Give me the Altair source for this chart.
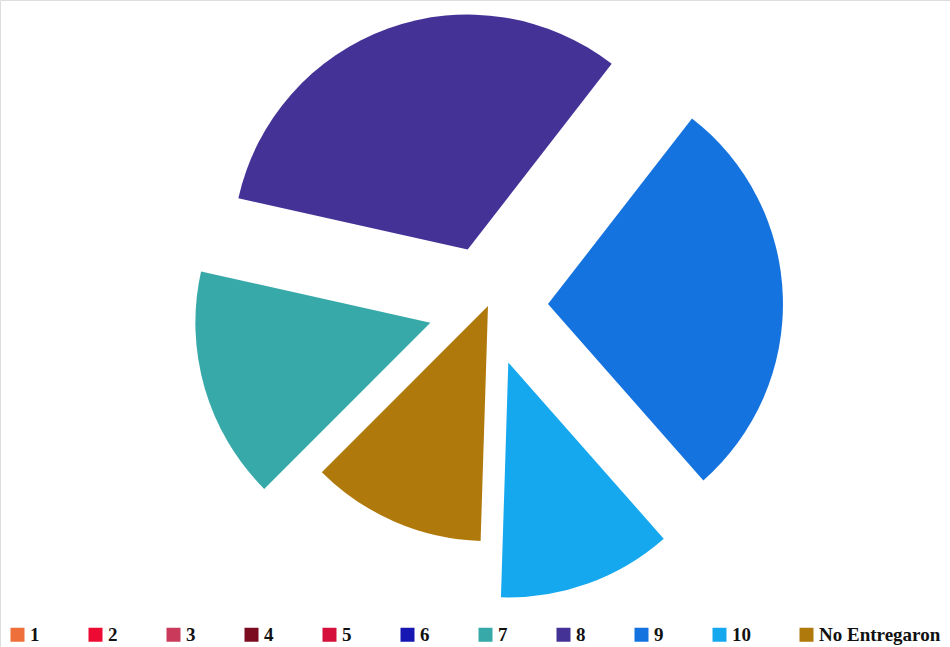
import altair as alt
import pandas as pd

# ---- data ----
categories = ["1", "2", "3", "4", "5", "6", "7", "8", "9", "10", "No Entregaron"]
counts = [0, 0, 0, 0, 0, 0, 4, 8, 7, 3, 3]
colors = ["#EF6F3B", "#EE0B33", "#C93A5B", "#7B0B1F", "#D5103A", "#1616B2",
          "#36A9A8", "#443297", "#1573E0", "#15A8EE", "#B0790C"]

# ---- style ----
CX, CY = 488, 306          # pie centre (px)
RADIUS = 235
START_DEG = 225.0          # angle where the first slice begins (clockwise from 12 o'clock)
EXPLODE = 60               # explode distance for pulled-out slices

df = pd.DataFrame({"category": categories, "value": counts, "order": list(range(len(categories)))})

start = START_DEG * 3.141592653589793 / 180

chart = alt.Chart(df).transform_window(
    cum="sum(value)", sort=[alt.SortField("order")], frame=[None, 0]
).transform_joinaggregate(
    total="sum(value)"
).transform_calculate(
    t0=f"{start} + 2*PI*(datum.cum - datum.value)/datum.total",
    t1=f"{start} + 2*PI*datum.cum/datum.total",
).transform_calculate(
    mid="(datum.t0 + datum.t1)/2",
    ex=f"datum.category == 'No Entregaron' ? 0 : {EXPLODE}",
).transform_calculate(
    px=f"{CX} + datum.ex*sin(datum.mid)",
    py=f"{CY} - datum.ex*cos(datum.mid)",
).mark_arc(radius=RADIUS, strokeWidth=0).encode(
    theta=alt.Theta("t0:Q", scale=None, stack=None),
    theta2="t1:Q",
    x=alt.X("px:Q", scale=None),
    y=alt.Y("py:Q", scale=None),
    color=alt.Color(
        "category:N",
        scale=alt.Scale(domain=categories, range=colors),
        sort=categories,
        legend=alt.Legend(
            orient="none", legendX=8, legendY=625, direction="horizontal",
            columns=11, columnPadding=46, symbolType="square", symbolSize=196,
            symbolStrokeWidth=0, labelFont="Liberation Serif", labelFontSize=19,
            labelFontWeight="bold", labelColor="#111111", labelOffset=3,
            labelLimit=200, title=None, padding=0,
        ),
    ),
).properties(
    width=950, height=647, padding=0, autosize=alt.AutoSizeParams(type="none")
).configure_view(stroke=None).configure(background="white")

chart.save("out.html", embed_options={"renderer": "svg", "actions": False})
